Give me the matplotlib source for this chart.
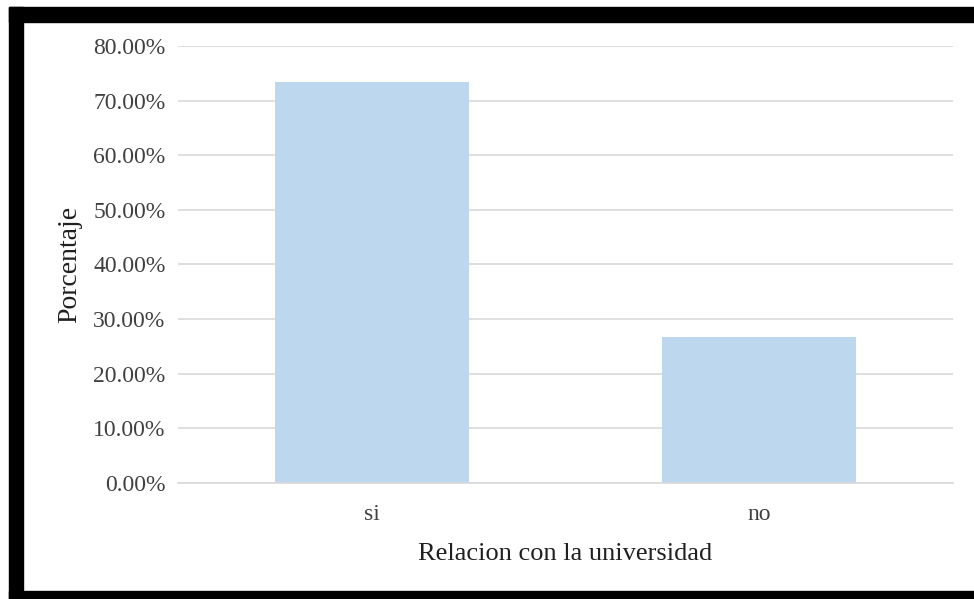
import matplotlib.pyplot as plt
from matplotlib.patches import Rectangle
from matplotlib.ticker import FuncFormatter

categories = ['si', 'no']
porcentajes = [0.7333, 0.2667]
y_ticks = [0.0, 0.1, 0.2, 0.3, 0.4, 0.5, 0.6, 0.7, 0.8]

plt.rcParams['font.family'] = ['Liberation Serif', 'DejaVu Serif']

fig = plt.figure(figsize=(9.74, 5.99), dpi=100)
ax = fig.add_axes([0.1828, 0.1937, 0.7956, 0.7295])

ax.bar(range(len(categories)), porcentajes, width=0.5, color='#BDD7EE', zorder=2)

ax.set_xlim(-0.5, 1.5)
ax.set_ylim(0, 0.8)
ax.set_yticks(y_ticks)
ax.yaxis.set_major_formatter(FuncFormatter(lambda v, _: f'{v * 100:.2f}%'))
ax.set_xticks(range(len(categories)))
ax.set_xticklabels(categories)

ax.grid(axis='y', color='#d9d9d9', linewidth=1.2, zorder=0)
for side in ['top', 'right', 'left']:
    ax.spines[side].set_visible(False)
ax.spines['bottom'].set_color('#d9d9d9')
ax.spines['bottom'].set_linewidth(1.2)

ax.tick_params(axis='y', length=0, pad=9, labelsize=17, labelcolor='#404040')
ax.tick_params(axis='x', length=0, pad=15, labelsize=17, labelcolor='#404040')

ax.set_xlabel('Relacion con la universidad', fontsize=19, color='#202020', labelpad=13)
ax.set_ylabel('Porcentaje', fontsize=20, color='#202020', labelpad=8)

# black frame around the chart
W, H = 974, 599
fig.add_artist(Rectangle((9 / W, 0), 14 / W, 1 - 7 / H, transform=fig.transFigure, color='black'))
fig.add_artist(Rectangle((9 / W, 1 - 22 / H), 1, 15 / H, transform=fig.transFigure, color='black'))
fig.add_artist(Rectangle((9 / W, 0), 1, 8 / H, transform=fig.transFigure, color='black'))

fig.savefig('out.png', dpi=100)
